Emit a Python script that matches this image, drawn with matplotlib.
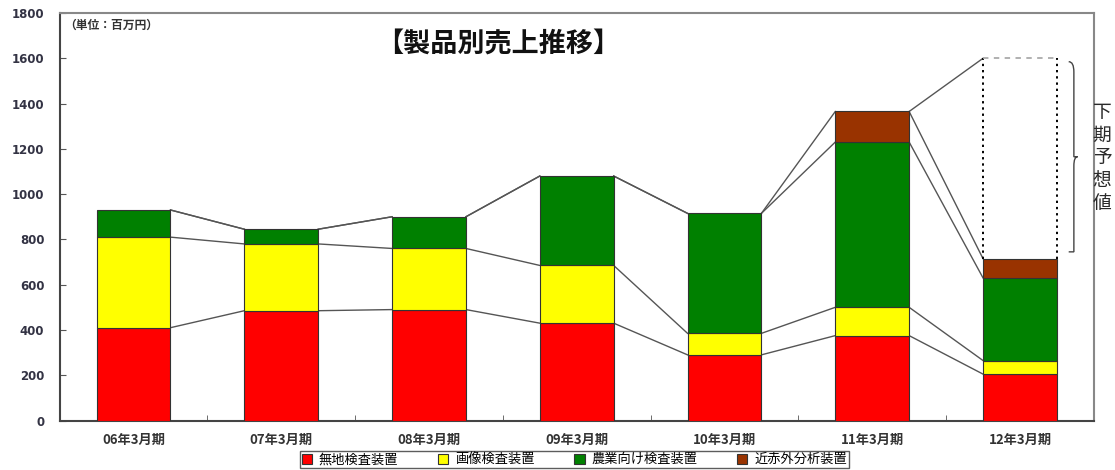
import matplotlib
matplotlib.use("Agg")
import matplotlib.pyplot as plt
from matplotlib.path import Path
from matplotlib.patches import PathPatch
import numpy as np

plt.rcParams['font.family'] = ['Noto Sans CJK JP', 'DejaVu Sans']

categories = ["06年3月期", "07年3月期", "08年3月期", "09年3月期",
              "10年3月期", "11年3月期", "12年3月期"]
series_names = ["無地検査装置", "画像検査装置", "農業向け検査装置", "近赤外分析装置"]
plain = [410, 485, 490, 430, 290, 375, 205]
image = [400, 295, 270, 255, 95, 125, 60]
agri = [120, 65, 140, 395, 530, 730, 365]
nir = [0, 0, 0, 0, 0, 135, 85]
forecast_total = 1600
colors = ["#FF0000", "#FFFF00", "#008000", "#993300"]
yticks = [0, 200, 400, 600, 800, 1000, 1200, 1400, 1600, 1800]

fig = plt.figure(figsize=(11.15, 4.70), dpi=100)
ax = fig.add_axes([0.0535, 0.1053, 0.9275, 0.867])

x = np.arange(len(categories))
width = 0.5
series = [plain, image, agri, nir]
bottom = np.zeros(len(categories))
tops = []
for vals, col, name in zip(series, colors, series_names):
    vals = np.array(vals, dtype=float)
    mask = vals > 0
    ax.bar(x[mask], vals[mask], width, bottom=bottom[mask], color=col,
           edgecolor="#333333", linewidth=0.8, label=name, zorder=3)
    bottom = bottom + vals
    tops.append(bottom.copy())

# series lines joining the stacked levels between neighbouring bars
for level in tops:
    for i in range(len(categories) - 1):
        ax.plot([x[i] + width / 2, x[i + 1] - width / 2], [level[i], level[i + 1]],
                color="#555555", lw=1.0, zorder=2)
ax.plot([x[-2] + width / 2, x[-1] - width / 2], [tops[-1][-2], forecast_total],
        color="#555555", lw=1.0, zorder=2)

# forecast box for the second half
xl, xr = x[-1] - width / 2, x[-1] + width / 2
ax.plot([xl, xl], [tops[-1][-1], forecast_total], color="black", lw=1.4,
        ls=(0, (1.2, 2.0)), zorder=4)
ax.plot([xr, xr], [tops[-1][-1], forecast_total], color="black", lw=1.4,
        ls=(0, (1.2, 2.0)), zorder=4)
ax.plot([xl, xr], [forecast_total, forecast_total], color="#aaaaaa", lw=1.3,
        ls=(0, (3, 3)), zorder=4)

# curly brace beside the forecast box
bx0, bx1 = 6.33, 6.39
ytop, ybot = forecast_total - 15, tops[-1][-1] + 30
ymid = (ytop + ybot) / 2
bm = bx0 + 0.035
verts = [
    (bx0, ytop), (bm, ytop), (bm, ytop - 45), (bm, ytop - 80),
    (bm, ymid + 40), (bm, ymid), (bx1, ymid),
    (bm, ymid), (bm, ymid - 40), (bm, ymid - 80),
    (bm, ybot + 80), (bm, ybot), (bx0, ybot),
]
codes = [Path.MOVETO, Path.CURVE3, Path.CURVE3, Path.LINETO,
         Path.CURVE3, Path.CURVE3, Path.LINETO,
         Path.CURVE3, Path.CURVE3, Path.LINETO,
         Path.CURVE3, Path.CURVE3, Path.LINETO]
ax.add_patch(PathPatch(Path(verts, codes), fill=False, edgecolor="#444444",
                       lw=1.0, clip_on=False, zorder=5))
ax.text(6.555, 1160, "\n".join("下期予想値"), fontsize=13.5, color="#2a2a2a",
        ha="center", va="center", linespacing=1.12, clip_on=False, zorder=6)

ax.set_xlim(-0.5, len(categories) - 0.5)
ax.set_ylim(0, 1800)
ax.set_yticks(yticks)
ax.set_yticklabels([str(v) for v in yticks], fontsize=8.5, fontweight="bold",
                   color="#333344", family="DejaVu Sans")
ax.set_xticks(x)
ax.set_xticklabels(categories, fontsize=9.5, fontweight="bold", color="#333333")
ax.set_xticks(np.arange(-0.5, len(categories)), minor=True)
ax.tick_params(axis="x", which="major", length=0, pad=9)
ax.tick_params(axis="x", which="minor", length=4, direction="in", color="#555555")
ax.tick_params(axis="y", length=4, direction="in", color="#555555", pad=11)

for side in ["top", "right"]:
    ax.spines[side].set_color("#888888")
    ax.spines[side].set_linewidth(1.5)
for side in ["left", "bottom"]:
    ax.spines[side].set_color("#444444")
    ax.spines[side].set_linewidth(1.5)

ax.text(0.004, 0.985, "（単位：百万円）", transform=ax.transAxes, fontsize=8.5,
        fontweight="bold", color="#333333", ha="left", va="top")
ax.text(2.47, 1665, "【製品別売上推移】", fontsize=19.5, fontweight="bold",
        color="#111111", ha="center", va="center")

leg = fig.legend(loc="center", bbox_to_anchor=(0.515, 0.022), ncol=4,
                 fontsize=9.5, frameon=True, fancybox=False, edgecolor="#333333",
                 handlelength=0.8, handleheight=0.8, handletextpad=0.5,
                 columnspacing=3.0, borderpad=0.15)
leg.get_frame().set_linewidth(1.0)

fig.savefig("out.png", dpi=100, facecolor="white")
